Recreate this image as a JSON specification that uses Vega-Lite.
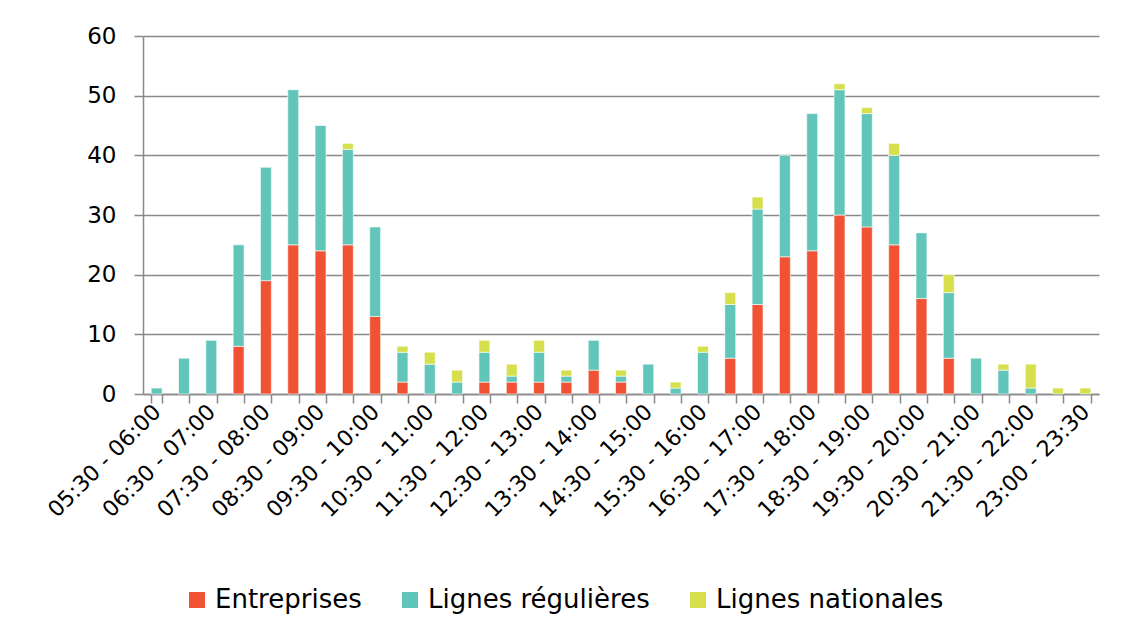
{
  "$schema": "https://vega.github.io/schema/vega-lite/v6.json",
  "autosize": {"type": "none"},
  "width": 956,
  "height": 358,
  "padding": {"left": 143, "top": 36, "right": 45, "bottom": 244},
  "background": "white",
  "config": {
    "font": "DejaVu Sans",
    "view": {"stroke": null},
    "axis": {
      "labelFont": "DejaVu Sans",
      "labelColor": "#000000",
      "domainColor": "#898989",
      "tickColor": "#898989",
      "gridColor": "#898989",
      "domainWidth": 1.5,
      "tickWidth": 1.5,
      "gridWidth": 1.5
    },
    "legend": {"labelFont": "DejaVu Sans", "labelColor": "#000000"}
  },
  "data": {
    "values": [
      {"creneau": "05:30 - 06:00", "type": "Lignes régulières", "nb": 1},
      {"creneau": "06:00 - 06:30", "type": "Lignes régulières", "nb": 6},
      {"creneau": "06:30 - 07:00", "type": "Lignes régulières", "nb": 9},
      {"creneau": "07:00 - 07:30", "type": "Entreprises", "nb": 8},
      {"creneau": "07:00 - 07:30", "type": "Lignes régulières", "nb": 17},
      {"creneau": "07:30 - 08:00", "type": "Entreprises", "nb": 19},
      {"creneau": "07:30 - 08:00", "type": "Lignes régulières", "nb": 19},
      {"creneau": "08:00 - 08:30", "type": "Entreprises", "nb": 25},
      {"creneau": "08:00 - 08:30", "type": "Lignes régulières", "nb": 26},
      {"creneau": "08:30 - 09:00", "type": "Entreprises", "nb": 24},
      {"creneau": "08:30 - 09:00", "type": "Lignes régulières", "nb": 21},
      {"creneau": "09:00 - 09:30", "type": "Entreprises", "nb": 25},
      {"creneau": "09:00 - 09:30", "type": "Lignes régulières", "nb": 16},
      {"creneau": "09:00 - 09:30", "type": "Lignes nationales", "nb": 1},
      {"creneau": "09:30 - 10:00", "type": "Entreprises", "nb": 13},
      {"creneau": "09:30 - 10:00", "type": "Lignes régulières", "nb": 15},
      {"creneau": "10:00 - 10:30", "type": "Entreprises", "nb": 2},
      {"creneau": "10:00 - 10:30", "type": "Lignes régulières", "nb": 5},
      {"creneau": "10:00 - 10:30", "type": "Lignes nationales", "nb": 1},
      {"creneau": "10:30 - 11:00", "type": "Lignes régulières", "nb": 5},
      {"creneau": "10:30 - 11:00", "type": "Lignes nationales", "nb": 2},
      {"creneau": "11:00 - 11:30", "type": "Lignes régulières", "nb": 2},
      {"creneau": "11:00 - 11:30", "type": "Lignes nationales", "nb": 2},
      {"creneau": "11:30 - 12:00", "type": "Entreprises", "nb": 2},
      {"creneau": "11:30 - 12:00", "type": "Lignes régulières", "nb": 5},
      {"creneau": "11:30 - 12:00", "type": "Lignes nationales", "nb": 2},
      {"creneau": "12:00 - 12:30", "type": "Entreprises", "nb": 2},
      {"creneau": "12:00 - 12:30", "type": "Lignes régulières", "nb": 1},
      {"creneau": "12:00 - 12:30", "type": "Lignes nationales", "nb": 2},
      {"creneau": "12:30 - 13:00", "type": "Entreprises", "nb": 2},
      {"creneau": "12:30 - 13:00", "type": "Lignes régulières", "nb": 5},
      {"creneau": "12:30 - 13:00", "type": "Lignes nationales", "nb": 2},
      {"creneau": "13:00 - 13:30", "type": "Entreprises", "nb": 2},
      {"creneau": "13:00 - 13:30", "type": "Lignes régulières", "nb": 1},
      {"creneau": "13:00 - 13:30", "type": "Lignes nationales", "nb": 1},
      {"creneau": "13:30 - 14:00", "type": "Entreprises", "nb": 4},
      {"creneau": "13:30 - 14:00", "type": "Lignes régulières", "nb": 5},
      {"creneau": "14:00 - 14:30", "type": "Entreprises", "nb": 2},
      {"creneau": "14:00 - 14:30", "type": "Lignes régulières", "nb": 1},
      {"creneau": "14:00 - 14:30", "type": "Lignes nationales", "nb": 1},
      {"creneau": "14:30 - 15:00", "type": "Lignes régulières", "nb": 5},
      {"creneau": "15:00 - 15:30", "type": "Lignes régulières", "nb": 1},
      {"creneau": "15:00 - 15:30", "type": "Lignes nationales", "nb": 1},
      {"creneau": "15:30 - 16:00", "type": "Lignes régulières", "nb": 7},
      {"creneau": "15:30 - 16:00", "type": "Lignes nationales", "nb": 1},
      {"creneau": "16:00 - 16:30", "type": "Entreprises", "nb": 6},
      {"creneau": "16:00 - 16:30", "type": "Lignes régulières", "nb": 9},
      {"creneau": "16:00 - 16:30", "type": "Lignes nationales", "nb": 2},
      {"creneau": "16:30 - 17:00", "type": "Entreprises", "nb": 15},
      {"creneau": "16:30 - 17:00", "type": "Lignes régulières", "nb": 16},
      {"creneau": "16:30 - 17:00", "type": "Lignes nationales", "nb": 2},
      {"creneau": "17:00 - 17:30", "type": "Entreprises", "nb": 23},
      {"creneau": "17:00 - 17:30", "type": "Lignes régulières", "nb": 17},
      {"creneau": "17:30 - 18:00", "type": "Entreprises", "nb": 24},
      {"creneau": "17:30 - 18:00", "type": "Lignes régulières", "nb": 23},
      {"creneau": "18:00 - 18:30", "type": "Entreprises", "nb": 30},
      {"creneau": "18:00 - 18:30", "type": "Lignes régulières", "nb": 21},
      {"creneau": "18:00 - 18:30", "type": "Lignes nationales", "nb": 1},
      {"creneau": "18:30 - 19:00", "type": "Entreprises", "nb": 28},
      {"creneau": "18:30 - 19:00", "type": "Lignes régulières", "nb": 19},
      {"creneau": "18:30 - 19:00", "type": "Lignes nationales", "nb": 1},
      {"creneau": "19:00 - 19:30", "type": "Entreprises", "nb": 25},
      {"creneau": "19:00 - 19:30", "type": "Lignes régulières", "nb": 15},
      {"creneau": "19:00 - 19:30", "type": "Lignes nationales", "nb": 2},
      {"creneau": "19:30 - 20:00", "type": "Entreprises", "nb": 16},
      {"creneau": "19:30 - 20:00", "type": "Lignes régulières", "nb": 11},
      {"creneau": "20:00 - 20:30", "type": "Entreprises", "nb": 6},
      {"creneau": "20:00 - 20:30", "type": "Lignes régulières", "nb": 11},
      {"creneau": "20:00 - 20:30", "type": "Lignes nationales", "nb": 3},
      {"creneau": "20:30 - 21:00", "type": "Lignes régulières", "nb": 6},
      {"creneau": "21:00 - 21:30", "type": "Lignes régulières", "nb": 4},
      {"creneau": "21:00 - 21:30", "type": "Lignes nationales", "nb": 1},
      {"creneau": "21:30 - 22:00", "type": "Lignes régulières", "nb": 1},
      {"creneau": "21:30 - 22:00", "type": "Lignes nationales", "nb": 4},
      {"creneau": "22:00 - 22:30", "type": "Lignes nationales", "nb": 1},
      {"creneau": "23:00 - 23:30", "type": "Lignes nationales", "nb": 1}
    ]
  },
  "transform": [
    {"calculate": "indexof(['Entreprises', 'Lignes régulières', 'Lignes nationales'], datum.type)", "as": "rang"}
  ],
  "mark": {"type": "bar", "stroke": "#ffffff", "strokeWidth": 0.6},
  "encoding": {
    "x": {
      "field": "creneau",
      "type": "nominal",
      "sort": null,
      "title": null,
      "scale": {"paddingInner": 0.6, "paddingOuter": 0.3},
      "axis": {
        "tickBand": "extent",
        "tickSize": 9,
        "labelAngle": -45,
        "labelAlign": "right",
        "labelBaseline": "middle",
        "labelFontSize": 22,
        "labelPadding": 5,
        "labelOverlap": false,
        "labelExpr": "substring(datum.value, 3, 5) == '30' || datum.value == '23:00 - 23:30' ? datum.value : ''"
      }
    },
    "y": {
      "field": "nb",
      "type": "quantitative",
      "aggregate": "sum",
      "stack": "zero",
      "title": null,
      "scale": {"domain": [0, 60], "nice": false},
      "axis": {
        "values": [0, 10, 20, 30, 40, 50, 60],
        "tickSize": 9,
        "labelPadding": 18,
        "labelFontSize": 23,
        "grid": true
      }
    },
    "color": {
      "field": "type",
      "type": "nominal",
      "title": null,
      "scale": {
        "domain": ["Entreprises", "Lignes régulières", "Lignes nationales"],
        "range": ["#F05233", "#62C5BA", "#D5E04C"]
      },
      "legend": {
        "orient": "none",
        "direction": "horizontal",
        "legendX": 41,
        "legendY": 551,
        "symbolType": "square",
        "symbolSize": 256,
        "symbolStrokeWidth": 0,
        "labelFontSize": 26,
        "labelOffset": 5,
        "labelLimit": 500,
        "columnPadding": 35,
        "padding": 0
      }
    },
    "order": {"field": "rang", "type": "quantitative"}
  }
}
